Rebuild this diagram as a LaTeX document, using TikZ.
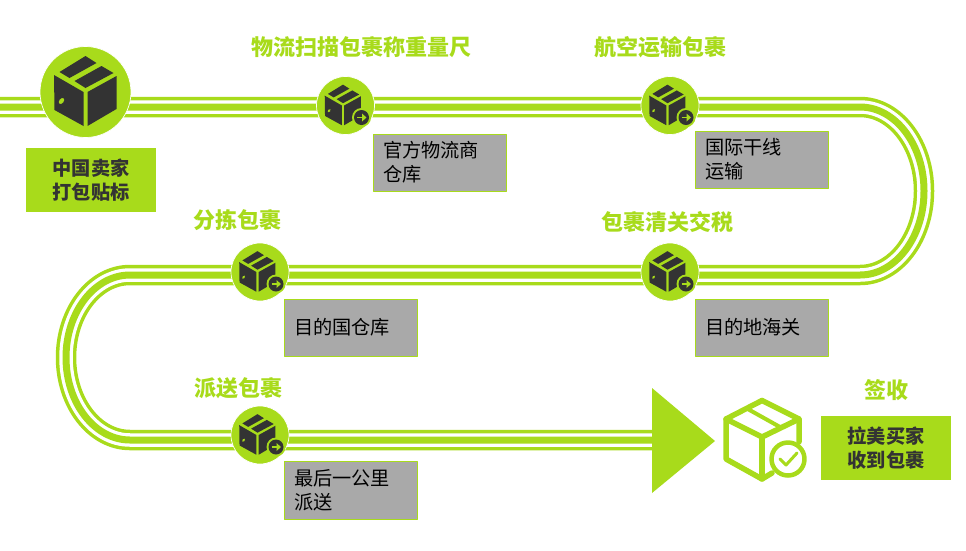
\documentclass[tikz,border=0pt]{standalone}
\usepackage{fontspec}
\setmainfont{Noto Sans CJK SC}
\usetikzlibrary{positioning}
\definecolor{lvse}{HTML}{A8DB1B}
\definecolor{heise}{HTML}{333333}
\definecolor{huise}{HTML}{A9A9A9}
\tikzset{
  biaoti/.style={text=lvse,font=\fontsize{22}{24}\selectfont\bfseries,inner sep=0pt},
  lvkuang/.style={fill=lvse,text=heise,minimum width=130,minimum height=64,align=center,inner sep=0pt,font=\fontsize{19.2}{24}\selectfont\bfseries},
  huikuang/.style={fill=huise,draw=lvse,line width=1pt,text=black,minimum width=133,minimum height=57,text width=113,align=left,inner sep=0pt,font=\fontsize{19.2}{24}\selectfont},
  vong/.style={circle,fill=lvse,draw=white,line width=.7pt,inner sep=0pt,minimum size=#1},
  hopden/.pic={
    \fill[heise] (-31.5,-17)--(-2,0)--(-2,34)--(-31,18)--cycle;
    \fill[heise] (2,0)--(31,-16)--(31,17)--(2,34)--cycle;
    \fill[heise,line join=round] (-26,-20)--(0,-36)--(11,-29)--(-16,-14)--cycle;
    \fill[heise,line join=round] (-11,-11)--(16,-26)--(28,-19)--(0,-4)--cycle;
    \fill[lvse,rotate around={-40:(-24,9)}] (-24,9) ellipse (2.2 and 3.4);
  },
  huyhieu/.pic={
    \fill[lvse] (0,0) circle (9.5);
    \fill[heise] (0,0) circle (7.5);
    \draw[lvse,line width=1.8pt] (-4.5,0)--(1,0);
    \fill[lvse] (.5,-4)--(5,0)--(.5,4)--cycle;
  }
}
\begin{document}
\begin{tikzpicture}[x=1pt,y=-1pt,line join=round]
\useasboundingbox (0,0) rectangle (966,550);
% duong di
\coordinate (dau) at (0,107);
\coordinate (phai1) at (860,107);
\coordinate (trai2) at (130,275);
\coordinate (cuoi) at (660,440);
\foreach \rong/\mau in {20.5/lvse,13.5/white,7/lvse}{
\draw[\mau,line width=\rong pt] (dau)--(phai1) arc[start angle=-90,end angle=90,x radius=64,y radius=84]
--(trai2) arc[start angle=-90,end angle=-270,x radius=64,y radius=82.5]--(cuoi);
}
\fill[lvse] (652,388) coordinate (muiA)--(715,441) coordinate (muiB)--(652,493) coordinate (muiC)--cycle;
% cac vong tron
\node[vong=91] (vong0) at (85.5,92) {};
\foreach \ten/\x/\y in {vong1/345.5/105.5,vong2/670/105.5,vong3/260/272,vong4/670/272,vong5/260/435}{
\node[vong=58] (\ten) at (\x,\y) {};
\pic[scale=.58] at ([xshift=-2.5]\ten.center) {hopden};
\pic at ([xshift=16,yshift=-12]\ten.center) {huyhieu};
}
\pic at (vong0.center) {hopden};
% chu
\node[lvkuang] (ban) at (91,180) {中国卖家\\打包贴标};
\node[lvkuang] (mua) at (886,448) {拉美买家\\收到包裹};
\node[biaoti] (t1) at (361,47) {物流扫描包裹称重量尺};
\node[biaoti] (t2) at (660.5,47) {航空运输包裹};
\node[biaoti] (t3) at (237,220) {分拣包裹};
\node[biaoti] (t4) at (667,222) {包裹清关交税};
\node[biaoti] (t5) at (238,388) {派送包裹};
\node[biaoti] (t6) at (886,390) {签收};
\node[huikuang] (h1) at (439.5,162.5) {官方物流商\\仓库};
\node[huikuang] (h2) at (761.5,159.5) {国际干线\\运输};
\node[huikuang] (h3) at (350.5,327.5) {目的国仓库};
\node[huikuang] (h4) at (761.5,327.5) {目的地海关};
\node[huikuang,minimum height=58] (h5) at (350.5,490) {最后一公里\\派送};
% hop nhan
\begin{scope}[lvse,line width=5.5pt,line cap=round]
\draw (762,400.5)--(799,419)--(799,442);
\draw (762,400.5)--(726,419)--(726,459)--(762,479)--(772,473);
\draw (726,419)--(762,437)--(799,419);
\draw (762,437)--(762,479);
\draw[line width=4pt,line cap=butt] (746,408)--(780,427);
\end{scope}
\draw[lvse,line width=4.5pt,fill=white] (788,459) circle (16.5);
\draw[lvse,line width=3pt,line cap=round] (780,459)--(786,465)--(797,453);
\end{tikzpicture}
\end{document}
